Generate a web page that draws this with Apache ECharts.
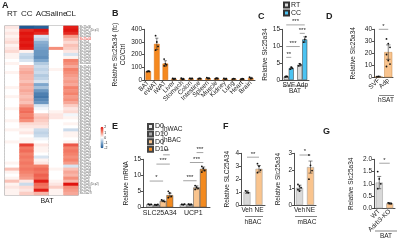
<!DOCTYPE html>
<html>
<head>
<meta charset="utf-8">
<script src="https://cdn.jsdelivr.net/npm/echarts@6/dist/echarts.min.js"></script>
<style>
  html, body { margin: 0; padding: 0; background: #fff; }
  #chart { width: 400px; height: 247px; }
</style>
</head>
<body>
<div id="chart"></div>
<script>
// ---- A: heatmap (z-score) ----
var heatColsL = ['RT', 'CC', 'AC']
var heatColsR = ['Saline', 'CL']
var genes = ['Slc25a30', 'Slc25a7 (Ucp1)', 'Slc25a20', 'Slc25a42', 'Slc25a34', 'Slc25a1', 'Slc25a33', 'Slc25a19', 'Slc25a44', 'Slc25a15',
  'Slc25a35', 'Slc25a16', 'Slc25a45', 'Slc25a10', 'Slc25a13', 'Slc25a29', 'Slc25a12', 'Slc25a26', 'Slc25a3', 'Slc25a36',
  'Slc25a46', 'Slc25a37', 'Slc25a38', 'Slc25a22', 'Slc25a24', 'Slc25a23', 'Slc25a39', 'Slc25a17', 'Slc25a51', 'Slc25a11',
  'Slc25a27', 'Slc25a28', 'Slc25a40', 'Slc25a32', 'Slc25a14', 'Slc25a47', 'Slc25a53', 'Slc25a48', 'Slc25a4', 'Slc25a5',
  'Slc25a18', 'Slc25a25', 'Slc25a31', 'Slc25a43', 'Slc25a2', 'Slc25a41', 'Slc25a52', 'Slc25a54', 'Slc25a49', 'Slc25a50',
  'Slc25a9', 'Slc25a6', 'Slc25a8 (Ucp2)', 'Slc25a55', 'Slc25a21', 'Slc25a27l']
var highlightGene = 'Slc25a34'
var rt = [0.2, 0.1, 0.2, 0.1, 0.2, 0.3, 0.1, 0.2, 0.3, 0.1, 0.1, 0.0, 0.1, 0.0, 0.0, 0.1, 0.0, 0.0, 0.0, 0.0,
  0.1, 0.0, 0.0, 0.1, 0.0, 0.0, 0.0, 0.1, 0.0, 0.0, 0.0, 0.1, 0.0, 0.0, 0.1, 0.0, 0.0, 0.0, 0.1, 0.0,
  0.0, 0.0, 0.0, 0.0, 0.0, 0.1, 0.0, 0.5, 0.1, 0.0, 0.1, 0.5, 0.1, 0.2, 0.1, 0.1]
var cc = [-2.0, 1.8, 2.0, 1.9, 2.0, 1.9, 2.0, 1.9, 0.1, -0.4, -0.5, -0.3, 0.0, 0.5, 0.6, 0.7, 0.6, 0.6, 0.5, 0.7,
  0.6, 0.7, 0.6, 0.5, 0.6, 0.5, 0.8, 1.1, 1.2, 1.0, 1.1, 0.9, 0.3, 0.2, 0.1, 0.2, 0.0, 0.1, 0.1, 1.6,
  1.1, 1.2, 1.0, 1.1, 1.0, 1.1, 1.0, 1.1, 1.0, 0.9, 0.8, 0.2, -0.4, 0.3, 0.2, 0.4]
var ac = [-1.9, 2.0, 1.8, -0.3, -0.5, -0.9, -1.0, -1.1, -1.2, -1.2, -1.3, -1.0, -0.6, -0.4, -0.5, -0.4, -0.6, -0.5, -0.3, -1.0,
  -0.7, -1.2, -1.5, -1.6, -1.4, -1.2, -0.3, -0.1, 0.0, 0.4, 0.5, 0.4, 0.3, 0.2, -0.4, -0.5, -0.4, -0.1, 0.0, 0.2,
  0.1, 0.1, 0.0, -0.3, 0.1, 0.2, 1.0, 1.2, 1.1, 1.3, 1.2, 1.9, 1.2, 1.1, 1.9, 0.6]
var saline = [0, 0, 0, 0, 0, 0, 0, 0.9, 0, 0, 0, 0, 0, 0, 0.1, 0, 0, 0, 0, 0,
  0, 0, 0, 0, 0, 0, 0, 0, 0.1, 0.2, 0.2, 0, 0, 0, 0, 0, 0, 0, 0, 0,
  0, 0, 0, 0, 0, 0, 0, 0.1, 0, 0, 0, 0.1, 0.2, 0.4, 0.1, 0.1]
var cl = [1.9, 2.0, 1.8, 0.8, 0.5, 0.3, 0.5, 0.4, 0.2, -0.3, 0.1, 1.0, 0.9, 0.7, 1.0, 0.9, 0.8, 0.7, 0.8, 0.7,
  1.0, 0.9, 1.0, 0.8, 0.9, 0.7, 0.4, 0.2, 0.3, -0.1, 0.1, 0.0, 0.1, 0.0, -0.4, 0.1, 0.1, 0.0, 0.1, 1.4,
  1.0, 1.1, 1.0, 0.9, 1.0, 0.8, -0.3, 0.5, 0.7, 0.6, 0.9, 0.6, 2.0, 0.9, 0.8, 0.7]
var scaleTicks = ['2', '1', '0', '-1', '-2']

// ---- B: tissues ----
var bCats = ['BAT', 'eWAT', 'iWAT', 'Liver', 'Stomach', 'Colon', 'Intestine', 'Spleen', 'Muscle', 'Kidney', 'Lung', 'Heart', 'Brain']
var bMean = [68, 285, 130, 10, 9, 12, 11, 14, 12, 10, 9, 8, 15]
var bErr = [4, 45, 22, 4, 5, 3, 4, 5, 4, 4, 3, 3, 6]
var bPts = [[66, 70, 68], [350, 300, 265, 235], [165, 128, 120, 112], [12, 8, 10], [14, 6, 8], [13, 10, 12], [9, 13, 11],
  [18, 12, 13], [10, 14, 12], [12, 8, 10], [7, 11, 9], [6, 10, 8], [22, 12, 14]]

// ---- C: SVF vs adipocytes ----
var cCats = ['SVF', 'Adp']
var cRT = [1.0, 4.5]
var cRTErr = [0.2, 0.4]
var cRTPts = [[0.9, 1.1, 1.0], [4.2, 4.8, 4.5]]
var cCC = [3.5, 12.0]
var cCCErr = [0.3, 0.8]
var cCCPts = [[3.2, 3.8, 3.5], [11.2, 12.0, 12.8]]
var cSig = [[0, 0, 1, 1, 16.3, '***'], [1, 0, 1, 1, 13.8, '***'], [0, 0, 1, 0, 9.9, '***'], [0, 0, 0, 1, 6.7, '**']]

// ---- D: hSAT ----
var dCats = ['SVF', 'Adp']
var dMean = [0.6, 21]
var dErr = [0.2, 6]
var dPts = [[0.5, 0.7], [32, 28, 25, 19, 14, 11, 9]]
var dSig = [[0, 0, 1, 0, 40, '*']]

// ---- E: human adipocytes ----
var eCats = ['SLC25A34', 'UCP1']
var eNames = ['D0', 'D10', 'D0 ', 'D10 ']
var eMeans = [[0.9, 0.9], [0.8, 0.9], [2.0, 6.2], [3.8, 12.0]]
var eErrs = [[0.1, 0.1], [0.1, 0.15], [0.25, 0.5], [0.6, 0.6]]
var ePts = [
  [[1.0, 0.8, 0.9], [0.9, 0.8, 1.0]],
  [[0.8, 0.7, 0.9], [1.0, 0.8, 0.9]],
  [[2.3, 2.0, 1.8], [6.8, 6.3, 5.9, 5.6]],
  [[5.0, 4.5, 3.4, 3.0], [12.8, 12.2, 11.5, 11.0]]
]
var eSig = [[0, 2, 0, 3, 16.4, '**'], [0, 1, 0, 3, 13.5, '***'], [0, 0, 0, 2, 8.2, '*'],
  [1, 2, 1, 3, 17.1, '***'], [1, 1, 1, 3, 14.0, '***'], [1, 0, 1, 2, 8.3, '***']]

// ---- F: NE treatment ----
var fCats = ['Veh', 'NE']
var f1Mean = [1.0, 2.8]
var f1Err = [0.1, 0.25]
var f1Pts = [[1.1, 1.0, 0.95], [3.2, 3.0, 2.7, 2.5]]
var f2Mean = [1.0, 2.2]
var f2Err = [0.15, 0.35]
var f2Pts = [[1.2, 1.1, 1.0, 0.9, 0.8], [2.9, 2.3, 2.0, 1.5]]

// ---- G: Adrb3 KO ----
var gCats = ['WT', 'Adrb3-KO']
var gMean = [1.05, 0.2]
var gErr = [0.25, 0.03]
var gPts = [[1.5, 1.2, 1.0, 0.8], [0.22, 0.2, 0.19]]

var FONT = "'Liberation Sans', Arial, sans-serif"
var INK = '#222'
var GRAY = '#d9d9d9'
var LORANGE = '#f9c48e'

function valAxis (gi, max, interval, name, gap, fmt) {
  return {
    type: 'value', gridIndex: gi, min: 0, max: max, interval: interval,
    name: name, nameLocation: 'middle', nameRotate: 90, nameGap: gap,
    nameTextStyle: { fontSize: 6.5, color: INK, fontFamily: FONT, lineHeight: 8 },
    axisLine: { show: true, lineStyle: { color: INK, width: 0.8 } },
    axisTick: { show: true, length: 2, lineStyle: { color: INK, width: 0.8 } },
    axisLabel: { fontSize: 6.5, color: INK, margin: 2, fontFamily: FONT, formatter: fmt },
    splitLine: { show: false }
  }
}
function catAxis (gi, data, rotate, size) {
  return {
    type: 'category', gridIndex: gi, data: data,
    axisLine: { show: true, lineStyle: { color: INK, width: 0.8 } },
    axisTick: { show: false },
    axisLabel: { fontSize: size || 6.5, color: INK, margin: 2, interval: 0, rotate: rotate || 0, fontFamily: FONT }
  }
}

function barS (gi, name, data, color, gap, border) {
  return {
    type: 'bar', name: name, xAxisIndex: gi, yAxisIndex: gi, data: data,
    barGap: '0%', barCategoryGap: (gap * 100) + '%', z: 2,
    itemStyle: { color: color, borderColor: border || '#333', borderWidth: 0.5 }
  }
}
function dodgeX (api, cat, y, sub, n, gap) {
  var c = api.coord([cat, y])
  var band = api.size([1, 0])[0]
  var bw = band * (1 - gap) / n
  return { x: c[0] + (sub - (n - 1) / 2) * bw, y: c[1], bw: bw }
}
function errS (gi, means, errs, sub, n, gap) {
  return {
    type: 'custom', xAxisIndex: gi, yAxisIndex: gi, silent: true, z: 5,
    data: means.map(function (m, i) { return [i, m, errs[i]] }),
    renderItem: function (params, api) {
      var p = dodgeX(api, api.value(0), api.value(1), sub, n, gap)
      var top = api.coord([api.value(0), api.value(1) + api.value(2)])[1]
      var bot = api.coord([api.value(0), Math.max(0, api.value(1) - api.value(2))])[1]
      var cap = p.bw * 0.28
      var st = { stroke: '#333', lineWidth: 0.6 }
      return { type: 'group', children: [
        { type: 'line', shape: { x1: p.x, y1: top, x2: p.x, y2: bot }, style: st },
        { type: 'line', shape: { x1: p.x - cap, y1: top, x2: p.x + cap, y2: top }, style: st },
        { type: 'line', shape: { x1: p.x - cap, y1: bot, x2: p.x + cap, y2: bot }, style: st }
      ] }
    }
  }
}
function ptS (gi, pts, sub, n, gap) {
  var data = []
  pts.forEach(function (arr, i) { arr.forEach(function (v, k) { data.push([i, v, k]) }) })
  return {
    type: 'custom', xAxisIndex: gi, yAxisIndex: gi, silent: true, z: 6, data: data,
    renderItem: function (params, api) {
      var p = dodgeX(api, api.value(0), api.value(1), sub, n, gap)
      var j = ((api.value(2) % 3) - 1) * p.bw * 0.22
      return { type: 'circle', shape: { cx: p.x + j, cy: p.y, r: 0.9 }, style: { fill: '#111' } }
    }
  }
}
function sigS (gi, list, n, gap) {
  return {
    type: 'custom', xAxisIndex: gi, yAxisIndex: gi, silent: true, z: 7,
    data: list.map(function (b) { return [b[0], b[4], b[1], b[2], b[3]] }),
    renderItem: function (params, api) {
      var a = dodgeX(api, api.value(0), api.value(1), api.value(2), n, gap)
      var b = dodgeX(api, api.value(3), api.value(1), api.value(4), n, gap)
      var label = list[params.dataIndex][5]
      return { type: 'group', children: [
        { type: 'line', shape: { x1: a.x, y1: a.y, x2: b.x, y2: a.y }, style: { stroke: '#666', lineWidth: 0.6 } },
        { type: 'text', x: (a.x + b.x) / 2, y: a.y - 0.3,
          style: { text: label, align: 'center', verticalAlign: 'bottom', fontSize: 6, fill: INK, fontFamily: FONT } }
      ] }
    }
  }
}

function heatData (cols) {
  var out = []
  cols.forEach(function (col, x) { col.forEach(function (v, y) { out.push([x, y, v]) }) })
  return out
}

var grids = [
  { left: 5, top: 26, width: 43.5, height: 169 },   // A left block
  { left: 49, top: 26, width: 29, height: 169 },    // A right block
  { left: 144, top: 29.3, width: 111, height: 50.7 }, // B
  { left: 282, top: 29.3, width: 27, height: 50.7 },  // C
  { left: 374, top: 29.3, width: 19, height: 48 },    // D
  { left: 143, top: 159.3, width: 67, height: 48 },   // E
  { left: 241, top: 153.3, width: 24, height: 51.7 }, // F1
  { left: 294, top: 153.3, width: 22, height: 51.7 }, // F2
  { left: 374, top: 159.3, width: 21, height: 49 }    // G
]
grids[0].show = true; grids[0].borderColor = '#8a8a8a'; grids[0].borderWidth = 1.2
grids[1].show = true; grids[1].borderColor = '#8a8a8a'; grids[1].borderWidth = 1.2

function heatX (gi, data) {
  return {
    type: 'category', gridIndex: gi, data: data, position: 'top',
    axisLine: { show: false }, axisTick: { show: false },
    axisLabel: { fontSize: 8, color: INK, margin: 8, interval: 0, fontFamily: FONT }
  }
}

var xAxes = [
  heatX(0, heatColsL), heatX(1, heatColsR),
  catAxis(2, bCats, 45), catAxis(3, cCats, 0, 6.5), catAxis(4, dCats, 45),
  catAxis(5, eCats, 0, 7), catAxis(6, fCats), catAxis(7, fCats), catAxis(8, gCats, 45)
]
var yAxes = [
  { type: 'category', gridIndex: 0, data: genes, inverse: true, show: false },
  { type: 'category', gridIndex: 1, data: genes, inverse: true, position: 'right',
    axisLine: { show: false }, axisTick: { show: false },
    axisLabel: { fontSize: 2.8, color: '#555', margin: 1.5, interval: 0, fontFamily: FONT,
      formatter: function (v) { return v === highlightGene ? '{r|' + v + '}' : v },
      rich: { r: { color: '#e3261c', fontSize: 2.8, fontFamily: FONT } } } },
  valAxis(2, 400, 100, 'Relative Slc25a34 (fc)\nCC/Ctrl', 17),
  valAxis(3, 15, 5, 'Relative Slc25a34', 8),
  valAxis(4, 40, 10, 'Relative Slc25a34', 17),
  valAxis(5, 15, 5, 'Relative mRNA', 7),
  valAxis(6, 4, 1, 'Relative SLC25A34', 10),
  valAxis(7, 3, 1, 'Relative Slc25a34', 12),
  valAxis(8, 2, 0.5, 'Relative Slc25a34', 19, function (v) { return v.toFixed(1) })
]

var series = [
  { type: 'heatmap', xAxisIndex: 0, yAxisIndex: 0, data: heatData([rt, cc, ac]) },
  { type: 'heatmap', xAxisIndex: 1, yAxisIndex: 1, data: heatData([saline, cl]) },
  // B
  barS(2, 'B', bMean, '#f5891f', 0.35, '#d36d10'), errS(2, bMean, bErr, 0, 1, 0.35), ptS(2, bPts, 0, 1, 0.35),
  // C
  barS(3, 'RT', cRT, GRAY, 0.26), barS(3, 'CC', cCC, '#4cc3f2', 0.26),
  errS(3, cRT, cRTErr, 0, 2, 0.26), errS(3, cCC, cCCErr, 1, 2, 0.26),
  ptS(3, cRTPts, 0, 2, 0.26), ptS(3, cCCPts, 1, 2, 0.26), sigS(3, cSig, 2, 0.26),
  // D
  barS(4, 'D', [{ value: dMean[0], itemStyle: { color: '#555' } }, dMean[1]], LORANGE, 0.16, '#c98a4a'),
  errS(4, dMean, dErr, 0, 1, 0.16), ptS(4, dPts, 0, 1, 0.16), sigS(4, dSig, 1, 0.16),
  // F
  barS(6, 'F1', [{ value: f1Mean[0], itemStyle: { color: GRAY } }, f1Mean[1]], LORANGE, 0.42, '#999'),
  errS(6, f1Mean, f1Err, 0, 1, 0.42), ptS(6, f1Pts, 0, 1, 0.42), sigS(6, [[0, 0, 1, 0, 3.7, '**']], 1, 0.42),
  barS(7, 'F2', [{ value: f2Mean[0], itemStyle: { color: GRAY } }, f2Mean[1]], LORANGE, 0.36, '#999'),
  errS(7, f2Mean, f2Err, 0, 1, 0.36), ptS(7, f2Pts, 0, 1, 0.36), sigS(7, [[0, 0, 1, 0, 2.9, '*']], 1, 0.36),
  // G
  barS(8, 'G', [{ value: gMean[0], itemStyle: { color: GRAY } }, gMean[1]], LORANGE, 0.33, '#999'),
  errS(8, gMean, gErr, 0, 1, 0.33), ptS(8, gPts, 0, 1, 0.33), sigS(8, [[0, 0, 1, 0, 1.84, '*']], 1, 0.33)
]
// E
var eColors = ['#e8e8e8', '#a9a9a9', LORANGE, '#f38a1f']
eNames.forEach(function (nm, s) {
  series.push(barS(5, nm, eMeans[s], eColors[s], 0.2, '#444'))
  series.push(errS(5, eMeans[s], eErrs[s], s, 4, 0.2))
  series.push(ptS(5, ePts[s], s, 4, 0.2))
})
series.push(sigS(5, eSig, 4, 0.2))

function txt (x, y, s, size, bold, align) {
  return { type: 'text', x: x, y: y, silent: true,
    style: { text: s, fontSize: size, fontWeight: bold ? 'bold' : 'normal', fill: INK, fontFamily: FONT, align: align || 'left' } }
}
function hline (x1, x2, y) {
  return { type: 'line', silent: true, shape: { x1: x1, y1: y, x2: x2, y2: y }, style: { stroke: '#333', lineWidth: 0.6 } }
}
function vline (x, y1, y2) {
  return { type: 'line', silent: true, shape: { x1: x, y1: y1, x2: x, y2: y2 }, style: { stroke: '#333', lineWidth: 0.6 } }
}

var graphics = [
  txt(2, 1, 'A', 9, true), txt(112, 9, 'B', 9, true), txt(258, 12, 'C', 9, true), txt(326, 12, 'D', 9, true),
  txt(112, 122, 'E', 9, true), txt(223, 122, 'F', 9, true), txt(323, 127, 'G', 9, true),
  txt(47, 198, 'BAT', 7, false, 'center'),
  hline(283, 307, 86), txt(295, 87.5, 'BAT', 6.5, false, 'center'),
  hline(379, 394, 95.5), txt(386, 97, 'hSAT', 6.5, false, 'center'),
  hline(245, 263, 216.5), txt(253, 218.5, 'hBAC', 6.5, false, 'center'),
  hline(295, 317, 216.5), txt(307, 218.5, 'mBAC', 6.5, false, 'center'),
  hline(375, 397, 231), txt(386, 233, 'BAT', 6.5, false, 'center'),
  vline(163, 124.5, 134), txt(164, 126, 'hWAC', 6.5), vline(163, 135.5, 145), txt(164, 137, 'hBAC', 6.5)
]
scaleTicks.forEach(function (t, i) { graphics.push(txt(104.3, 125.5 + i * 5.1, t, 3.5)) })

var chart = echarts.init(document.getElementById('chart'), null, { renderer: 'canvas' })
chart.setOption({
  animation: false,
  backgroundColor: '#fff',
  textStyle: { fontFamily: FONT },
  grid: grids,
  xAxis: xAxes,
  yAxis: yAxes,
  visualMap: {
    type: 'continuous', min: -2, max: 2, seriesIndex: [0, 1], calculable: false,
    orient: 'vertical', left: 100.5, top: 126.7, itemWidth: 3, itemHeight: 21.6, padding: 0,
    text: null, showLabel: false,
    inRange: { color: ['#1e5a95', '#7ea6cc', '#ffffff', '#f4826c', '#e0140f'] }
  },
  legend: [
    { data: ['RT', 'CC'], left: 283, top: 1.5, orient: 'vertical', itemWidth: 5, itemHeight: 5, itemGap: 1,
      icon: 'rect', padding: 0, textStyle: { fontSize: 7, color: INK, padding: [0, 0, 0, -3] } },
    { data: eNames, left: 147, top: 123, orient: 'vertical', itemWidth: 5, itemHeight: 5, itemGap: 0.6,
      icon: 'rect', padding: 0, formatter: function (n) { return n.trim() },
      textStyle: { fontSize: 7, color: INK, padding: [0, 0, 0, -3] } }
  ],
  graphic: graphics,
  series: series
})
</script>
</body>
</html>
